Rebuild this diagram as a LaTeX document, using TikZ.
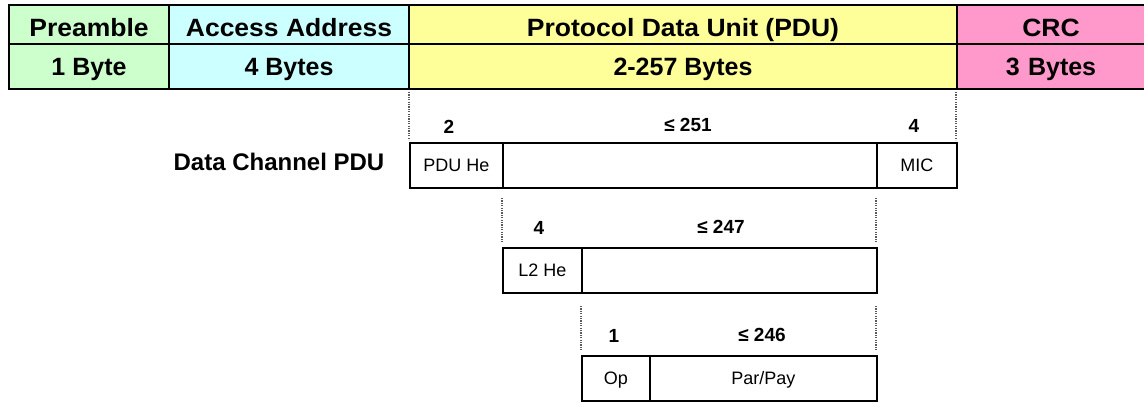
\documentclass[tikz,border=0pt]{standalone}
\usepackage{fontspec}
\usepackage{graphicx}
\setmainfont{Liberation Sans}
\definecolor{cpre}{RGB}{204,255,204}
\definecolor{cacc}{RGB}{204,255,255}
\definecolor{cpdu}{RGB}{255,255,153}
\definecolor{ccrc}{RGB}{255,153,204}
\definecolor{cdot}{RGB}{90,90,90}
\newcommand{\wide}[1]{\scalebox{1.06}[1]{#1}}
\begin{document}
\begin{tikzpicture}[x=1pt,y=-1pt,
  hcell/.style={draw=black,line width=2pt,anchor=north west,inner sep=0pt,
     font=\fontsize{25}{29}\selectfont\bfseries,text height=23pt,text depth=0pt},
  hcellb/.style={hcell,font=\fontsize{25}{29}\selectfont\bfseries,text height=18pt},
  seg/.style={draw=black,line width=1.6pt,anchor=north west,inner sep=0pt,minimum height=45pt,
     font=\fontsize{18}{21}\selectfont,text height=13pt,text depth=0pt},
  num/.style={font=\fontsize{19}{22}\selectfont\bfseries,inner sep=0pt},
  dotline/.style={draw=cdot,line width=1.4pt,dash pattern=on 1.2pt off 1.2pt}]
\useasboundingbox (0,0) rectangle (1144,402);
\fill[white] (0,0) rectangle (1144,402);
% header row 1
\node[hcell,fill=cpre,minimum width=160pt,minimum height=39pt] (preA) at (8,4) {\wide{Preamble}};
\node[hcell,fill=cacc,minimum width=240pt,minimum height=39pt] (accA) at (168,4) {\wide{Access Address}};
\node[hcell,fill=cpdu,minimum width=548pt,minimum height=39pt] (pduA) at (408,4) {\wide{Protocol Data Unit (PDU)}};
\node[hcell,fill=ccrc,minimum width=190pt,minimum height=39pt,text width=190pt,align=center] (crcA) at (956,4) {\hspace*{-2pt}\wide{CRC}\hspace*{2pt}};
% header row 2
\node[hcellb,fill=cpre,minimum width=160pt,minimum height=45pt] (preB) at (8,43) {1 Byte};
\node[hcellb,fill=cacc,minimum width=240pt,minimum height=45pt] (accB) at (168,43) {4 Bytes};
\node[hcellb,fill=cpdu,minimum width=548pt,minimum height=45pt] (pduB) at (408,43) {2-257 Bytes};
\node[hcellb,fill=ccrc,minimum width=190pt,minimum height=45pt,text width=190pt,align=center] (crcB) at (956,43) {\hspace*{-2pt}3 Bytes\hspace*{2pt}};
% Data channel PDU
\node[font=\fontsize{24}{28}\selectfont\bfseries,inner sep=0pt] (dcp) at (279,162) {Data Channel PDU};
\node[seg,minimum width=93pt] (hdr) at (409,142) {PDU He};
\node[seg,minimum width=374pt] (body) at (502,142) {};
\node[seg,minimum width=80pt] (mic) at (876,142) {MIC};
\node[num] (n2) at (449,127) {2};
\node[num] (n251) at (688,125) {≤ 251};
\node[num] (n4a) at (914,126) {4};
% L2
\node[seg,minimum width=79pt] (l2h) at (502,247) {L2 He};
\node[seg,minimum width=295pt] (l2b) at (581,247) {};
\node[num] (n4b) at (539,228) {4};
\node[num] (n247) at (721,227) {≤ 247};
% Op
\node[seg,minimum width=68pt] (op) at (581,355) {Op};
\node[seg,minimum width=227pt] (pay) at (649,355) {Par/Pay};
\node[num] (n1) at (614,336) {1};
\node[num] (n246) at (762,335) {≤ 246};
% dotted guides
\coordinate (d1t) at (409,92);  \coordinate (d1b) at (409,140);
\coordinate (d2t) at (956,92);  \coordinate (d2b) at (956,140);
\coordinate (d3t) at (502,198); \coordinate (d3b) at (502,242);
\coordinate (d4t) at (876,198); \coordinate (d4b) at (876,242);
\coordinate (d5t) at (581,306); \coordinate (d5b) at (581,350);
\coordinate (d6t) at (876,306); \coordinate (d6b) at (876,350);
\draw[dotline] (d1t) -- (d1b);
\draw[dotline] (d2t) -- (d2b);
\draw[dotline] (d3t) -- (d3b);
\draw[dotline] (d4t) -- (d4b);
\draw[dotline] (d5t) -- (d5b);
\draw[dotline] (d6t) -- (d6b);
\end{tikzpicture}
\end{document}
